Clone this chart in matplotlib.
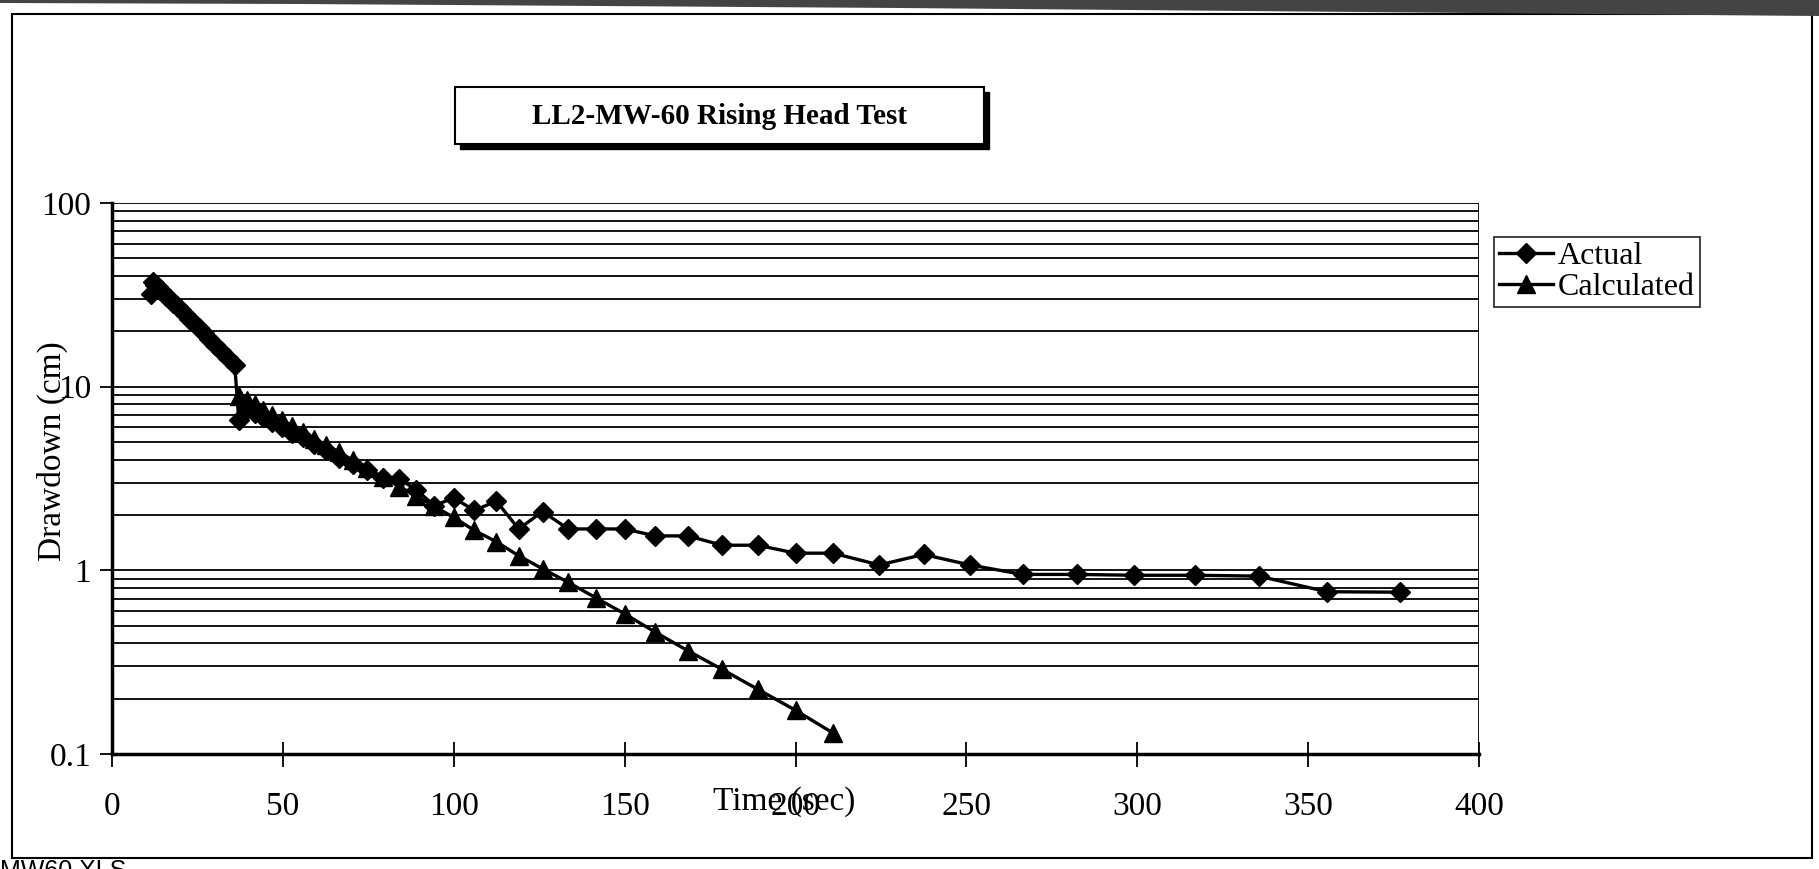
import matplotlib
matplotlib.use("Agg")
import matplotlib.pyplot as plt
from matplotlib.patches import Rectangle, Polygon
from matplotlib.ticker import FixedLocator, FixedFormatter, LogLocator, NullFormatter

# ---------------- data ----------------
actual_t = [11.3, 12, 12.7, 13.4, 14.2, 15, 15.9, 16.9, 17.9, 19, 20.1, 21.3, 22.6, 24,
            25.4, 26.9, 28.5, 30.2, 32, 33.9, 35.9, 37.1, 39.4, 41.7, 44.2, 46.9, 49.7,
            52.7, 55.8, 59.2, 62.7, 66.5, 70.5, 74.7, 79.2, 84, 89, 94.3, 100, 106,
            112.5, 119, 126, 133.5, 141.5, 150, 159, 168.5, 178.5, 189, 200, 211,
            224.5, 237.5, 251, 266.5, 282.5, 299, 317, 335.5, 355.5, 377]
actual_d = [32, 37, 35.9, 34.8, 33.6, 32.5, 31.3, 29.9, 28.7, 27.4, 26.1, 24.8, 23.4, 22.1,
            20.8, 19.5, 18.2, 16.9, 15.6, 14.4, 13.2, 6.6, 7.6, 7.2, 6.8, 6.4, 6.0,
            5.6, 5.3, 4.9, 4.5, 4.1, 3.8, 3.5, 3.2, 3.15, 2.75, 2.25, 2.48, 2.12,
            2.38, 1.68, 2.09, 1.68, 1.68, 1.68, 1.54, 1.54, 1.37, 1.37, 1.24, 1.24,
            1.07, 1.22, 1.07, 0.95, 0.95, 0.94, 0.94, 0.93, 0.765, 0.76]

calc_t = [37.1, 39.4, 41.7, 44.2, 46.9, 49.7, 52.7, 55.8, 59.2, 62.7, 66.5, 70.5, 74.7,
          79.2, 84, 89, 94.3, 100, 106, 112.5, 119, 126, 133.5, 141.5, 150, 159, 168.5,
          178.5, 189, 200, 211]
calc_d = [8.9, 8.45, 8.0, 7.5, 7.05, 6.6, 6.1, 5.7, 5.2, 4.8, 4.4, 3.97, 3.6,
          3.22, 2.86, 2.54, 2.23, 1.94, 1.65, 1.43, 1.2, 1.02, 0.86, 0.71, 0.58, 0.46, 0.365,
          0.289, 0.225, 0.173, 0.13]

x_ticks = [0, 50, 100, 150, 200, 250, 300, 350, 400]
y_ticks = [0.1, 1, 10, 100]
y_ticklabels = ["0.1", "1", "10", "100"]

title = "LL2-MW-60 Rising Head Test"
xlabel = "Time (sec)"
ylabel = "Drawdown (cm)"
series_names = ["Actual", "Calculated"]
footer = "MW60.XLS"

# ---------------- figure ----------------
W, H = 1819, 869
fig = plt.figure(figsize=(W / 100, H / 100), dpi=100)
fig.patch.set_facecolor("white")
serif = ["Liberation Serif", "DejaVu Serif"]

def fx(px):
    return px / W

def fy(py):
    return 1 - py / H

# outer frame
fig.patches.append(Rectangle((fx(12), fy(858)), fx(1812) - fx(12), fy(14) - fy(858),
                             transform=fig.transFigure, fill=False, edgecolor="black",
                             lw=1.5, zorder=0))
# scan artefact band at the top
fig.patches.append(Polygon([(0, 1), (1, 1), (1, fy(16)), (fx(900), fy(8)), (fx(300), fy(4)), (0, fy(3))],
                           closed=True, transform=fig.transFigure, facecolor="#444444",
                           edgecolor="none", zorder=0))

ax = fig.add_axes([fx(112), fy(754), fx(1479) - fx(112), fy(203) - fy(754)])
ax.set_yscale("log")
ax.set_xlim(0, 400)
ax.set_ylim(0.1, 100)

ax.plot(actual_t, actual_d, color="black", lw=2.4, marker="D", markersize=10.5,
        label=series_names[0], zorder=3)
ax.plot(calc_t, calc_d, color="black", lw=2.4, marker="^", markersize=12.5,
        label=series_names[1], zorder=3)

# grid lines at every major and minor decade step
ax.yaxis.set_major_locator(FixedLocator(y_ticks))
ax.yaxis.set_major_formatter(FixedFormatter(y_ticklabels))
ax.yaxis.set_minor_locator(LogLocator(base=10, subs=range(2, 10)))
ax.yaxis.set_minor_formatter(NullFormatter())
ax.grid(True, which="both", axis="y", color="black", lw=1.3)
ax.set_xticks(x_ticks)

for s in ["top", "right"]:
    ax.spines[s].set_visible(False)
ax.spines["left"].set_linewidth(2.5)
ax.spines["bottom"].set_linewidth(2.5)
# right boundary of plot area
ax.axvline(400, color="black", lw=2.0, zorder=2)

ax.tick_params(axis="x", direction="inout", length=18, width=1.3, pad=18,
               labelsize=24)
ax.tick_params(axis="y", which="major", direction="out", length=9, width=1.3, pad=6,
               labelsize=24)
ax.tick_params(axis="y", which="minor", length=0)
for lab in ax.get_xticklabels() + ax.get_yticklabels():
    lab.set_fontfamily(serif)

ax.set_xlabel(xlabel, fontsize=24, family=serif)
ax.xaxis.set_label_coords(0.492, -0.058)
ax.set_ylabel(ylabel, fontsize=24, family=serif)
ax.yaxis.set_label_coords(-0.032, 0.55)

# legend
leg = fig.legend(loc="upper left", bbox_to_anchor=(fx(1494), fy(237)),
                 bbox_transform=fig.transFigure, frameon=True, fancybox=False,
                 shadow=False, prop={"family": serif, "size": 23}, handlelength=1.7,
                 handletextpad=0.15, borderpad=0.15, labelspacing=0.05,
                 borderaxespad=0)
leg.get_frame().set_edgecolor("black")
leg.get_frame().set_linewidth(1.3)

# title box with shadow
bx0, by0, bx1, by1 = 455, 87, 984, 144
fig.patches.append(Rectangle((fx(bx0 + 5), fy(by1 + 5)), fx(bx1) - fx(bx0), fy(by0) - fy(by1),
                             transform=fig.transFigure, facecolor="black",
                             edgecolor="black", lw=1, zorder=1))
fig.patches.append(Rectangle((fx(bx0), fy(by1)), fx(bx1) - fx(bx0), fy(by0) - fy(by1),
                             transform=fig.transFigure, facecolor="white",
                             edgecolor="black", lw=1.5, zorder=2))
fig.text(fx(719), fy(116), title, ha="center", va="center", fontsize=21,
         fontweight="bold", family=serif, zorder=3)

# footer (partly cut off at the bottom edge)
fig.text(fx(0), fy(859), footer, ha="left", va="top", fontsize=18,
         family=["Liberation Sans", "DejaVu Sans"])

fig.savefig("out.png", dpi=100, facecolor="white")
